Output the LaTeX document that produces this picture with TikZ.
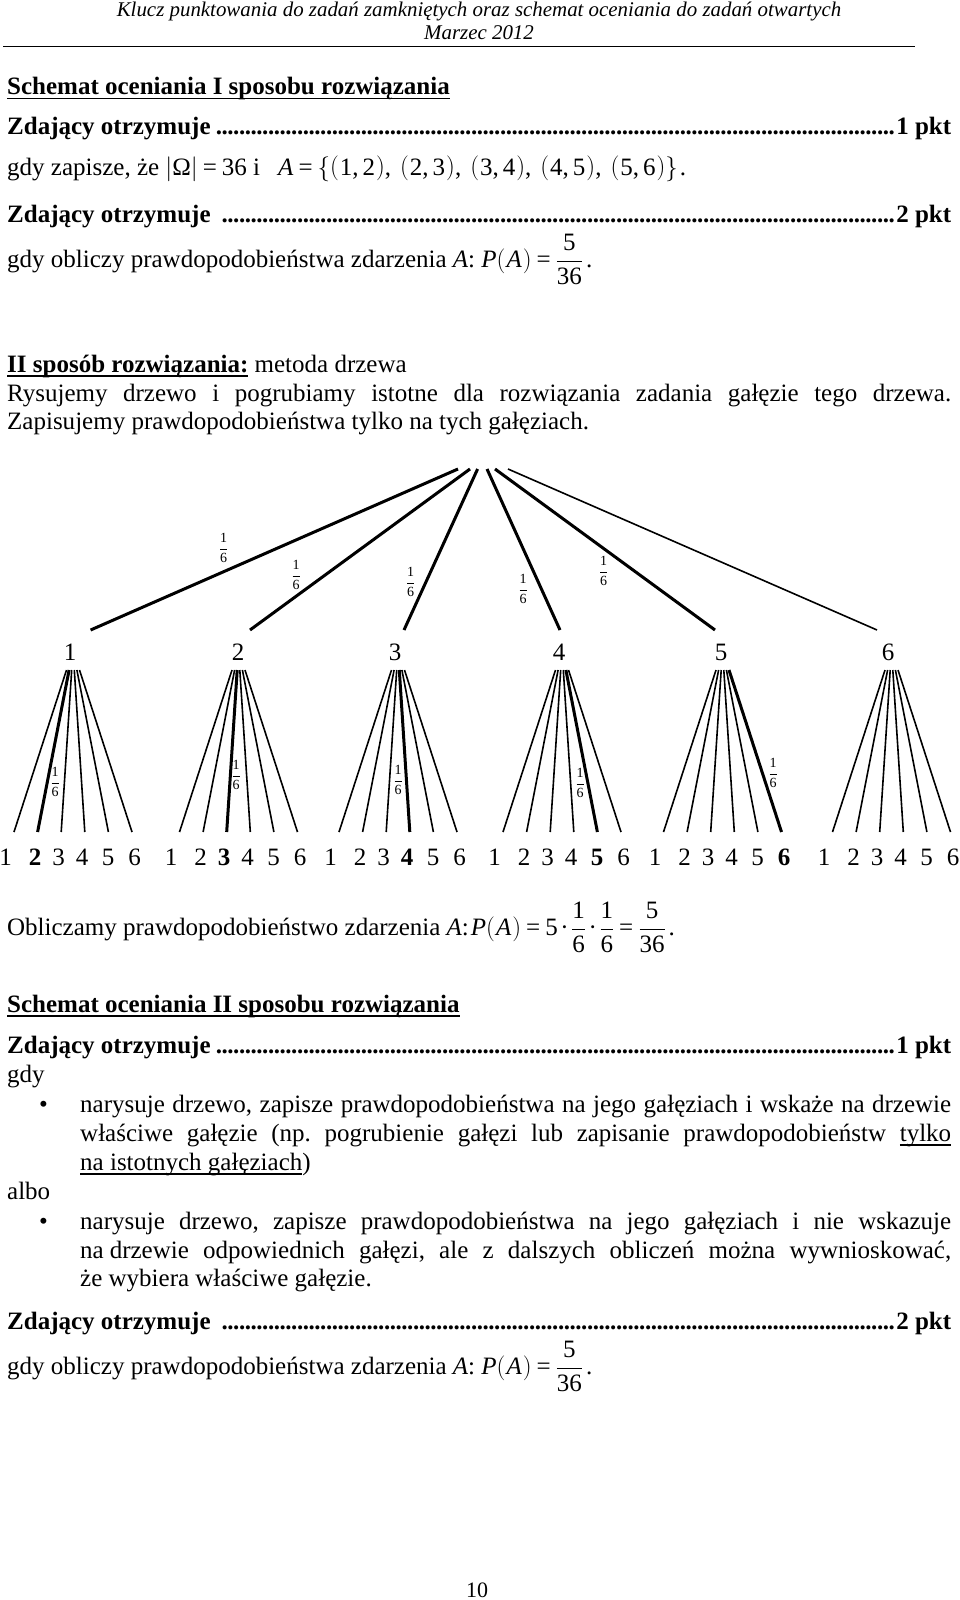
\documentclass[tikz,border=0pt]{standalone}
\usepackage{fontspec}
\setmainfont{Liberation Serif}
\frenchspacing
\newcommand\body{\fontsize{25}{29}\selectfont}
\newcommand\myul[1]{\setbox0=\hbox{#1}\rlap{\rule[-4.5pt]{\wd0}{1.4pt}}\box0\relax}
\newcommand\lp{$\bigl($\kern1pt}
\newcommand\rp{\kern1pt$\bigr)$}
\newcommand\eq{\kern5pt=\kern5pt}
\newcommand\cd{\kern2.5pt·\kern2.5pt}
\newcommand\pr[2]{\lp#1,\kern4pt#2\rp}
\newcommand\dotline[2]{\makebox[944pt][l]{\textbf{#1}\leaders\hbox to 5.8pt{\hss\textbf{.}\hss}\hfill\textbf{#2}}}
\newcommand\dfr[2]{$\displaystyle\frac{\hbox{#1}}{\hbox{#2}}$}
\tikzset{
  txt/.style={anchor=base west, inner sep=0pt, font=\body},
  hdr/.style={anchor=base, inner sep=0pt, font=\fontsize{20.9}{24}\selectfont\itshape},
  lab/.style={anchor=base, inner sep=0pt, font=\body},
  fr/.style={anchor=center, inner sep=0pt, font=\fontsize{14}{14}\selectfont},
  thick branch/.style={line width=3pt},
  thin branch/.style={line width=1.6pt},
}
\begin{document}
\begin{tikzpicture}[x=1pt,y=-1pt]
\useasboundingbox (0,0) rectangle (960,1600);
% header
\node[hdr] (h1) at (479,17) {Klucz punktowania do zadań zamkniętych oraz schemat oceniania do zadań otwartych};
\node[hdr] (h2) at (479,40) {Marzec 2012};
\coordinate (hl) at (3,47); \coordinate (hr) at (915,47);
\draw[line width=1pt] (hl) -- (hr);
% section I
\node[txt] (s1) at (7,95) {\myul{\textbf{Schemat oceniania I sposobu rozwiązania}}};
\node[txt] (z1) at (7,135) {\dotline{Zdający otrzymuje}{1 pkt}};
\node[txt] (g1) at (7,175) {gdy zapisze, że $\bigl|$Ω$\bigr|$\eq36 i\kern18pt\textit{A}\eq$\Bigl\{$\pr12,\kern9pt\pr23,\kern9pt\pr34,\kern9pt\pr45,\kern9pt\pr56$\Bigr\}$\kern2pt.};
\node[txt] (z2) at (7,222) {\dotline{Zdający otrzymuje }{2 pkt}};
\node[txt] (g2) at (7,267) {gdy obliczy prawdopodobieństwa zdarzenia \textit{A}: \textit{P}\lp\textit{A}\rp\eq\dfr{5}{36}\kern3pt.};
% section II
\node[txt] (s2) at (7,372) {\myul{\textbf{II sposób rozwiązania:}} metoda drzewa};
\node[txt] (p1) at (7,401) {\makebox[944pt][s]{Rysujemy drzewo i pogrubiamy istotne dla rozwiązania zadania gałęzie tego drzewa.}};
\node[txt] (p2) at (7,429) {Zapisujemy prawdopodobieństwa tylko na tych gałęziach.};
% tree level 1
\foreach \i/\sx/\ex/\lx in {1/458/90.6/70, 2/470/250/238, 3/477.6/404/395, 4/487/560/559, 5/495/715/721, 6/508/877/888} {
  \coordinate (r\i) at (\sx,469);
  \coordinate (e\i) at (\ex,630);
  \node[lab] (n\i) at (\lx,660) {\i};
}
\foreach \i in {1,...,5} { \draw[thick branch] (r\i) -- (e\i); }
\draw[thin branch] (r6) -- (e6);
\node[fr] (f1) at (223.5,548) {\dfr{1}{6}};
\node[fr] (f2) at (296,575) {\dfr{1}{6}};
\node[fr] (f3) at (410.5,582) {\dfr{1}{6}};
\node[fr] (f4) at (523,589) {\dfr{1}{6}};
\node[fr] (f5) at (603.5,571) {\dfr{1}{6}};
% tree level 2
\foreach \s/\c/\b in {1/73/2, 2/238.5/3, 3/398/4, 4/562/5, 5/722.5/6, 6/891.5/0} {
  \foreach \j/\lo in {1/-67.5, 2/-38, 3/-14.5, 4/9, 5/35, 6/61.5} {
    \ifnum\j=\b \def\lw{thick branch}\def\lf{\bfseries}\else\def\lw{thin branch}\def\lf{}\fi
    \coordinate (a\s\j) at ({\c+(\j-3.5)*2.6},670);
    \coordinate (b\s\j) at ({\c+(\j-3.5)*23.6},832);
    \draw[\lw] (a\s\j) -- (b\s\j);
    \node[lab] (l\s\j) at ({\c+\lo},865) {\lf\j};
  }
}
\node[fr] (g1f) at (55,782) {\dfr{1}{6}};
\node[fr] (g2f) at (236,775) {\dfr{1}{6}};
\node[fr] (g3f) at (398,780) {\dfr{1}{6}};
\node[fr] (g4f) at (580,783) {\dfr{1}{6}};
\node[fr] (g5f) at (773,773) {\dfr{1}{6}};
% computation
\node[txt] (ob) at (7,935) {Obliczamy prawdopodobieństwo zdarzenia \textit{A}:\kern2pt\textit{P}\lp\textit{A}\rp\eq5\cd\dfr{1}{6}\cd\dfr{1}{6}\eq\dfr{5}{36}\kern3pt.};
% scheme II
\node[txt] (s3) at (7,1012) {\myul{\textbf{Schemat oceniania II sposobu rozwiązania}}};
\node[txt] (z3) at (7,1053) {\dotline{Zdający otrzymuje}{1 pkt}};
\node[txt] (gdy) at (7,1082) {gdy};
\node[txt] (bu1) at (39,1112) {•};
\node[txt] (b1a) at (80,1112) {\makebox[871pt][s]{narysuje drzewo, zapisze prawdopodobieństwa na jego gałęziach i wskaże na drzewie}};
\node[txt] (b1b) at (80,1141) {\makebox[871pt][s]{właściwe gałęzie (np. pogrubienie gałęzi lub zapisanie prawdopodobieństw \myul{tylko}}};
\node[txt] (b1c) at (80,1170) {\myul{na istotnych gałęziach})};
\node[txt] (albo) at (7,1199) {albo};
\node[txt] (bu2) at (39,1229) {•};
\node[txt] (b2a) at (80,1229) {\makebox[871pt][s]{narysuje drzewo, zapisze prawdopodobieństwa na jego gałęziach i nie wskazuje}};
\node[txt] (b2b) at (80,1258) {\makebox[871pt][s]{na\kern6pt drzewie odpowiednich gałęzi, ale z dalszych obliczeń można wywnioskować,}};
\node[txt] (b2c) at (80,1286) {że wybiera właściwe gałęzie.};
\node[txt] (z4) at (7,1329) {\dotline{Zdający otrzymuje }{2 pkt}};
\node[txt] (g4) at (7,1374) {gdy obliczy prawdopodobieństwa zdarzenia \textit{A}: \textit{P}\lp\textit{A}\rp\eq\dfr{5}{36}\kern3pt.};
\node[anchor=base, inner sep=0pt, font=\fontsize{22}{24}\selectfont] (pg) at (477,1597) {10};
\end{tikzpicture}
\end{document}
